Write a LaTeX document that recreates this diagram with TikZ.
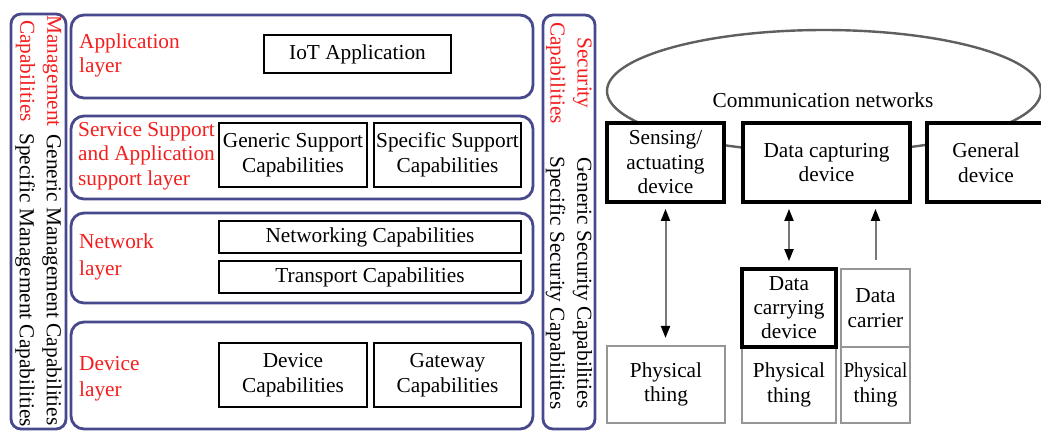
\documentclass[tikz,border=0pt]{standalone}
\usepackage{fontspec}
\setmainfont{Liberation Serif}
\usetikzlibrary{arrows.meta}
\definecolor{frameblue}{RGB}{72,72,140}
\definecolor{labelred}{RGB}{245,30,30}
\definecolor{netgray}{RGB}{95,95,95}
\definecolor{thinggray}{RGB}{150,150,150}
\definecolor{linkgray}{RGB}{120,120,120}
\tikzset{
  txt/.style={font=\fontsize{21.3}{24.5}\selectfont},
  column/.style={draw=frameblue, line width=2.8pt, rounded corners=10pt, inner sep=0pt},
  layerbox/.style={draw=frameblue, line width=2.8pt, rounded corners=13pt, inner sep=0pt},
  capbox/.style={txt, draw=black, line width=1.7pt, align=center, inner sep=0pt},
  devbox/.style={txt, draw=black, fill=white, line width=3.8pt, align=center, inner sep=0pt},
  thingbox/.style={txt, draw=thinggray, fill=white, line width=2.2pt, align=center, inner sep=0pt},
  redlabel/.style={txt, text=labelred, align=left, anchor=west, inner sep=0pt},
  sidetext/.style={font=\fontsize{21.3}{27}\selectfont, rotate=-90, align=center, inner sep=0pt},
  link/.style={draw=linkgray, line width=2pt},
  blacktip/.tip={Triangle[length=12pt, width=9pt, color=black]}
}
\begin{document}
\begin{tikzpicture}[x=1pt, y=-1pt]
\clip (0,0) rectangle (1041,432);
\fill[white] (0,0) rectangle (1041,432);

% ---------- layered architecture ----------
\node[column, minimum width=55, minimum height=415] (mgmt) at (38.5,221.5) {};
\node[sidetext, text=labelred] (mgmttitle) at (38.5,71) {Management\\Capabilities};
\node[sidetext] (mgmtitems) at (38.5,280) {Generic Management Capabilities\\Specific Management Capabilities};

\node[layerbox, minimum width=462, minimum height=83] (applayer) at (302,56.5) {};
\node[layerbox, minimum width=462, minimum height=83] (svclayer) at (302,157.5) {};
\node[layerbox, minimum width=462, minimum height=90] (netlayer) at (302,258) {};
\node[layerbox, minimum width=462, minimum height=107] (devlayer) at (302,375.5) {};

\node[redlabel] (applabel) at (79,55.5) {Application\\layer};
\node[redlabel] (svclabel) at (78,156) {Service Support\\and Application\\support layer};
\node[redlabel, font=\fontsize{21.3}{27}\selectfont] (netlabel) at (79,257) {Network\\layer};
\node[redlabel, font=\fontsize{21.3}{26}\selectfont] (devlabel) at (79,379) {Device\\layer};

\node[capbox, minimum width=187, minimum height=38] (iot) at (357.5,54) {IoT Application};
\node[capbox, minimum width=148, minimum height=64] (gensup) at (293,155) {Generic Support\\Capabilities};
\node[capbox, minimum width=147, minimum height=64] (specsup) at (447.5,155) {Specific Support\\Capabilities};
\node[capbox, minimum width=302, minimum height=32] (netcap) at (370,237) {Networking Capabilities};
\node[capbox, minimum width=302, minimum height=32] (trancap) at (370,277) {Transport Capabilities};
\node[capbox, minimum width=148, minimum height=64] (devcap) at (293,375) {Device\\Capabilities};
\node[capbox, minimum width=147, minimum height=64] (gwcap) at (447.5,375) {Gateway\\Capabilities};

\node[column, minimum width=52, minimum height=414] (sec) at (569,222) {};
\node[sidetext, text=labelred] (sectitle) at (569,73) {Security\\Capabilities};
\node[sidetext] (secitems) at (569,283) {Generic Security Capabilities\\Specific Security Capabilities};

% ---------- devices and physical things ----------
\draw[draw=netgray, line width=2.4pt] (824,91) ellipse [x radius=217, y radius=61];
\node[txt, inner sep=0pt] (netname) at (823,100) {Communication networks};

\node[devbox, minimum width=117, minimum height=79] (sensing) at (665.5,162.5) {Sensing/\\actuating\\device};
\node[devbox, minimum width=167, minimum height=79] (capturing) at (826.5,162.5) {Data capturing\\device};
\node[devbox, minimum width=118, minimum height=79] (general) at (986,162.5) {General\\device};

\node[thingbox, minimum width=118, minimum height=77] (thing1) at (666,384.5) {Physical\\thing};
\node[thingbox, minimum width=94, minimum height=76] (thing2) at (789,385) {Physical\\thing};
\node[thingbox, minimum width=69, minimum height=78] (carrier) at (875.5,308) {Data\\carrier};
\node[thingbox, minimum width=69, minimum height=76] (thing3) at (875.5,385) {\scalebox{0.88}[1]{Physical}\\thing};
\node[devbox, minimum width=94, minimum height=78, font=\fontsize{21.3}{24}\selectfont] (carrying) at (789,308) {Data\\carrying\\device};

\draw[link, {blacktip}-{blacktip}, shorten <=5pt, shorten >=7pt] (sensing.south) -- (sensing.south |- thing1.north);
\draw[link, {blacktip}-{blacktip}, shorten <=5pt, shorten >=6pt] (capturing.south -| carrying.north) -- (carrying.north);
\draw[link, -{blacktip}, shorten <=8pt, shorten >=5pt] (carrier.north) -- (carrier.north |- capturing.south);
\end{tikzpicture}
\end{document}
